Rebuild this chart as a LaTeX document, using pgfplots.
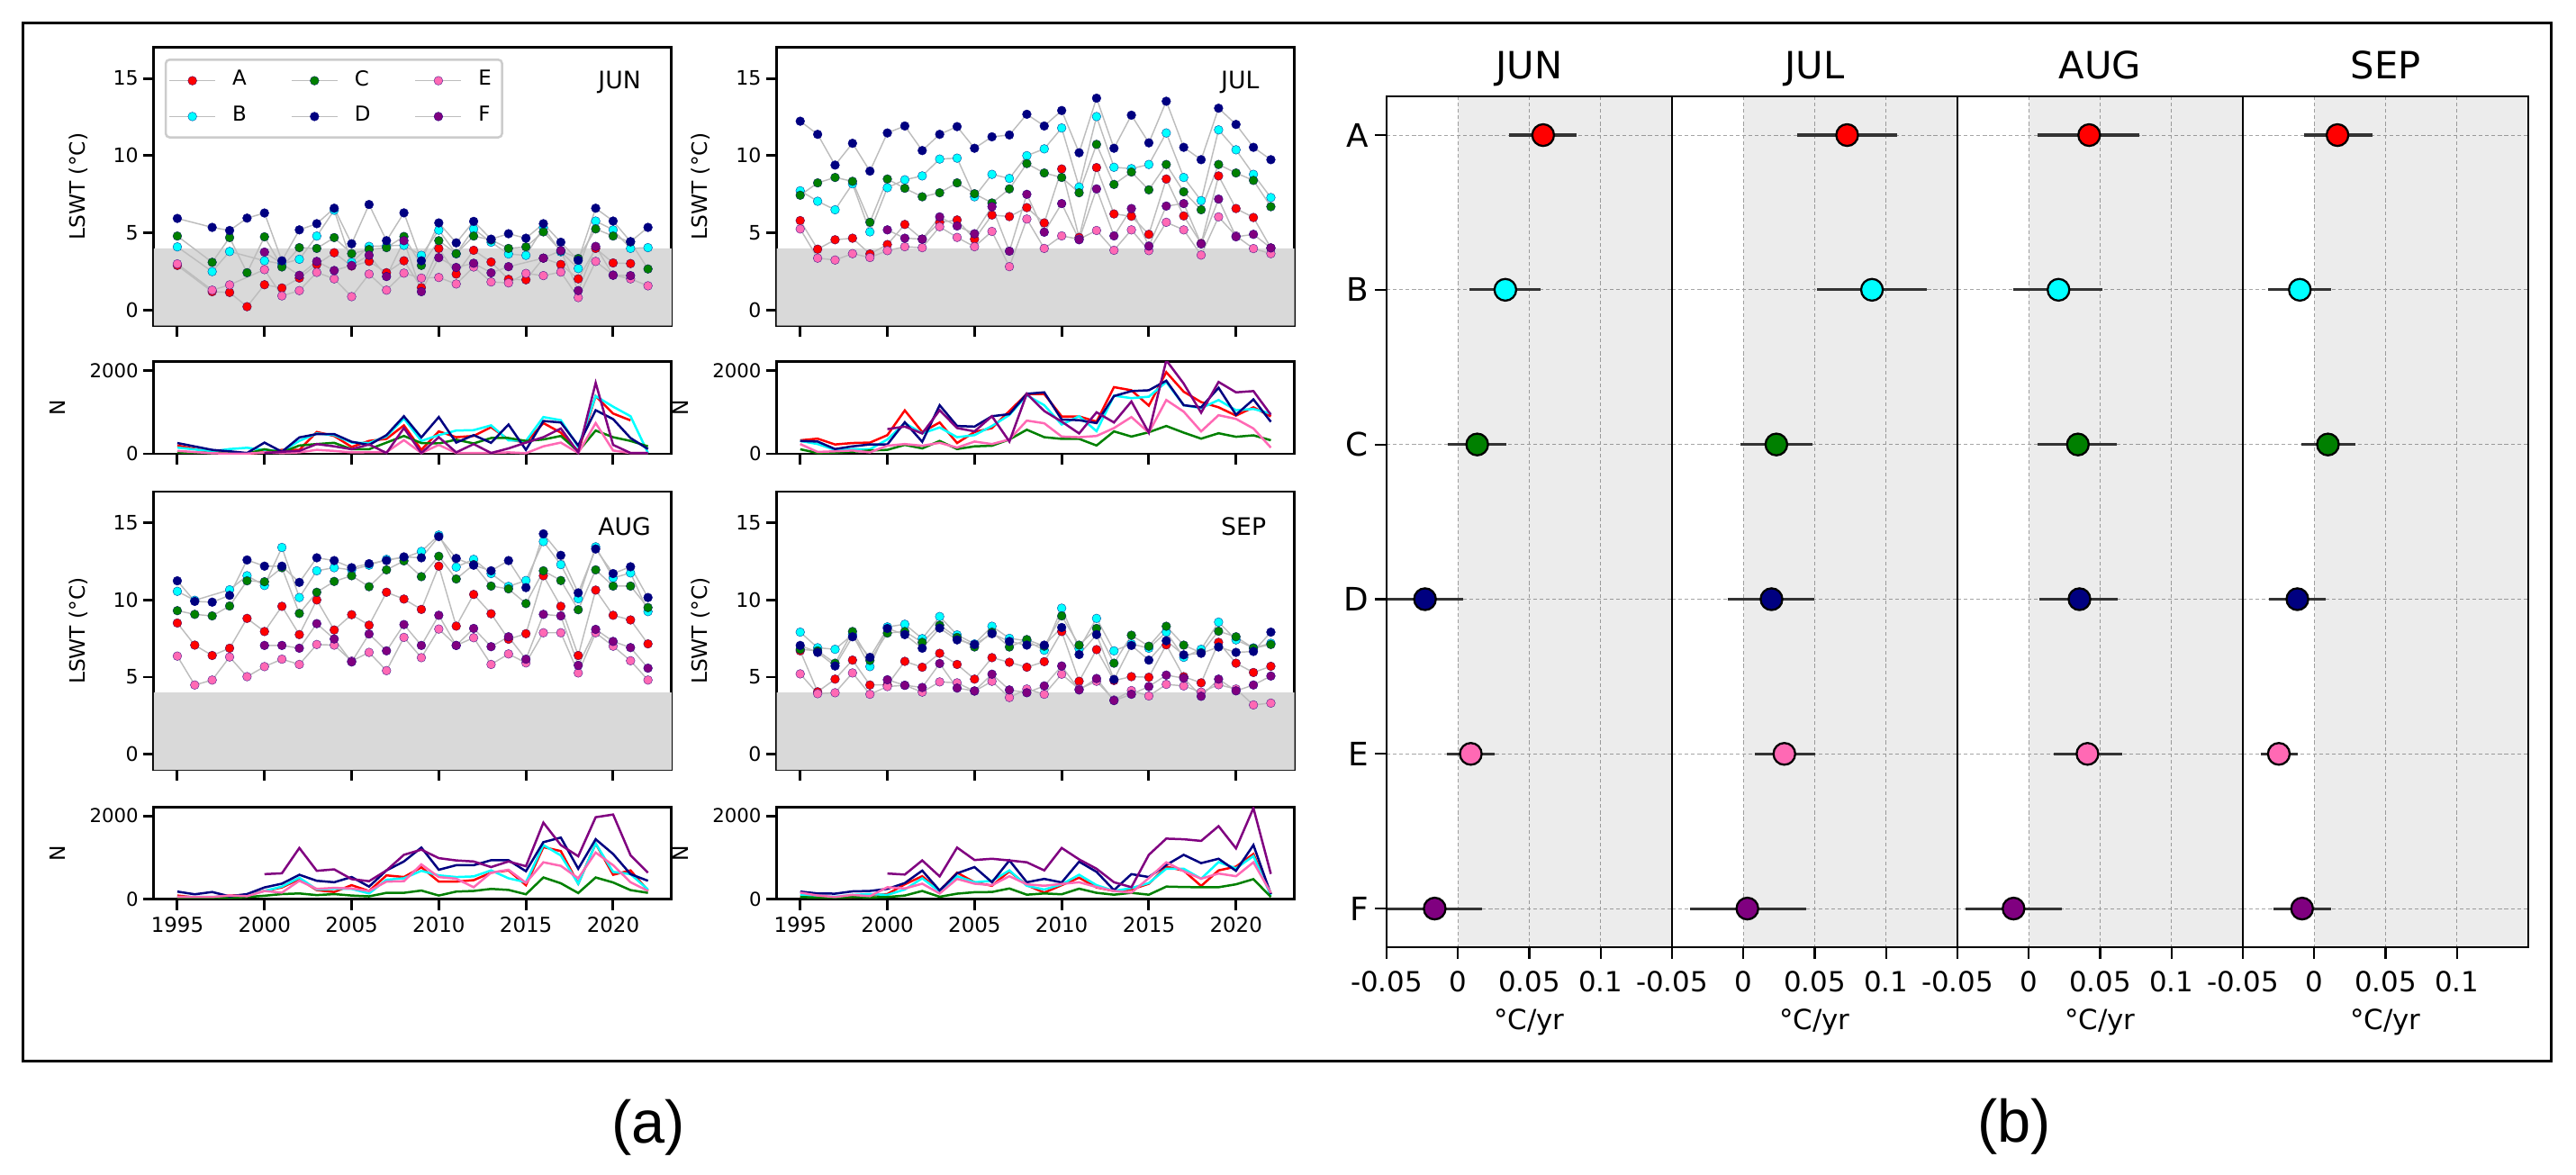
\documentclass[border=0pt]{standalone}
\usepackage{fontspec}
\usepackage{pgfplots}
\usepackage{pgfplotstable}
\pgfplotsset{compat=1.18}
\setmainfont{DejaVu Sans}
\newfontfamily\arialf{Liberation Sans}

% reference pixels to pt
\def\px#1{#1*0.24pt}
\def\py#1{312.96pt-#1*0.24pt}
\newcommand{\fs}[1]{\fontsize{#1}{#1}\selectfont}

\definecolor{cA}{HTML}{FF0000}
\definecolor{cB}{HTML}{00FFFF}
\definecolor{cC}{HTML}{008000}
\definecolor{cD}{HTML}{000080}
\definecolor{cE}{HTML}{FF69B4}
\definecolor{cF}{HTML}{800080}
\definecolor{linegray}{HTML}{BDBDBD}
\definecolor{spanA}{HTML}{D9D9D9}

% LSWT per month
\pgfplotstableread{
year A B C D E F
1995 2.9 4.1 4.8 5.94 3.0 nan
1997 1.2 2.5 3.1 5.36 1.3 nan
1998 1.15 3.8 4.7 5.16 1.64 nan
1999 .23 nan 2.43 5.96 nan nan
2000 1.65 3.2 4.75 6.29 2.63 3.76
2001 1.44 3.0 2.8 3.2 .93 nan
2002 2.08 3.3 4.05 5.2 1.27 2.26
2003 2.96 4.8 4.0 5.6 2.45 3.16
2004 3.72 6.47 4.7 6.6 2.03 2.57
2005 2.86 3.1 3.66 4.3 .88 2.9
2006 3.16 4.13 3.93 6.84 2.34 3.56
2007 2.43 4.17 4.05 4.5 1.3 2.18
2008 3.2 4.2 4.77 6.3 2.4 4.5
2009 1.46 3.55 2.9 3.2 2.08 1.2
2010 4.0 5.18 4.5 5.65 2.12 3.4
2011 2.34 3.65 3.66 4.36 1.7 2.77
2012 3.88 5.26 4.8 5.75 2.8 3.04
2013 3.12 4.4 4.55 4.6 1.83 2.42
2014 2.0 3.64 4.0 4.95 1.77 2.82
2015 1.97 3.55 4.1 4.66 2.38 nan
2016 3.37 5.36 5.07 5.6 2.24 3.37
2017 2.96 3.78 3.84 4.4 2.47 3.86
2018 2.03 2.7 3.35 3.23 .82 1.27
2019 4.0 5.77 5.26 6.6 3.16 4.13
2020 3.06 5.2 4.8 5.77 2.28 2.26
2021 3.02 4.0 4.42 4.44 2.03 2.24
2022 nan 4.05 2.67 5.36 1.58 nan
}\junT
\pgfplotstableread{
year A B C D E F
1995 5.8 7.73 7.44 12.23 5.26 nan
1996 3.95 7.05 8.24 11.38 3.37 nan
1997 4.56 6.5 8.59 9.39 3.25 nan
1998 4.66 8.18 8.34 10.8 3.66 nan
1999 3.64 5.07 5.69 9.0 3.41 nan
2000 4.25 7.93 8.49 11.47 3.86 5.2
2001 5.55 8.44 7.89 11.92 4.11 4.66
2002 4.6 8.69 7.34 10.33 4.05 4.6
2003 5.69 9.78 7.6 11.38 5.4 6.04
2004 5.84 9.84 8.24 11.88 4.71 5.45
2005 4.6 7.34 7.54 10.48 4.11 4.95
2006 6.16 8.79 6.94 11.22 5.1 6.7
2007 6.06 8.53 7.85 11.34 2.82 3.82
2008 6.64 10.0 9.49 12.68 5.9 7.5
2009 5.65 10.44 8.88 11.92 4.0 5.05
2010 9.14 11.79 8.59 12.92 4.81 6.9
2011 4.71 7.97 7.6 10.19 4.6 4.56
2012 9.23 12.53 10.73 13.72 5.16 7.85
2013 6.23 9.25 8.14 10.48 3.88 4.81
2014 6.08 9.16 8.94 12.62 5.2 6.58
2015 4.91 9.43 7.79 10.83 3.86 4.15
2016 8.49 11.47 9.43 13.52 5.69 6.74
2017 6.1 8.59 7.66 10.54 5.2 6.9
2018 4.32 7.09 6.5 9.74 3.57 4.29
2019 8.69 11.67 9.43 13.07 6.04 7.19
2020 6.58 10.38 8.88 12.02 4.81 4.75
2021 6.0 8.79 8.4 10.54 3.99 4.91
2022 4.03 7.29 6.7 9.74 3.66 4.03
}\julT
\pgfplotstableread{
year A B C D E F
1995 8.5 10.55 9.3 11.23 6.36 nan
1996 7.07 9.97 9.06 9.9 4.49 nan
1997 6.4 nan 8.96 9.85 4.81 nan
1998 6.87 10.65 9.6 10.29 6.3 nan
1999 8.8 11.56 11.23 12.58 5.03 nan
2000 7.95 10.93 11.17 12.18 5.68 7.05
2001 9.58 13.39 12.08 12.18 6.16 7.05
2002 7.75 10.15 9.12 11.13 5.82 6.87
2003 9.99 11.88 10.49 12.72 7.11 8.46
2004 8.05 12.08 11.19 12.54 7.07 7.47
2005 9.04 11.94 11.56 12.08 6.04 5.98
2006 8.36 12.24 10.85 12.34 6.6 7.79
2007 10.49 12.62 11.94 12.54 5.42 6.7
2008 10.05 12.72 12.52 12.78 7.57 8.4
2009 9.38 13.13 11.5 12.72 6.26 7.05
2010 12.18 14.19 12.82 14.09 8.11 9.0
2011 8.3 12.12 11.35 12.68 7.05 7.05
2012 10.35 12.62 12.28 12.24 7.55 8.15
2013 9.1 11.7 10.89 11.88 5.82 6.97
2014 7.45 10.87 10.71 12.54 6.5 7.61
2015 7.81 11.25 9.76 10.79 5.92 6.16
2016 11.56 13.77 11.88 14.27 7.87 9.06
2017 9.58 12.28 11.25 12.88 7.87 8.96
2018 6.4 10.07 9.36 10.45 5.27 5.76
2019 10.63 13.43 11.94 13.29 7.87 8.09
2020 9.0 11.42 10.89 11.7 7.0 7.31
2021 8.7 11.74 10.89 12.14 6.06 6.91
2022 7.15 9.24 9.5 10.15 4.81 5.58
}\augT
\pgfplotstableread{
year A B C D E F
1995 6.7 7.91 6.8 7.05 5.21 nan
1996 4.05 6.9 6.7 6.6 3.93 nan
1997 4.87 6.8 5.9 5.72 3.99 nan
1998 6.1 7.75 7.95 7.61 5.27 nan
1999 4.49 5.68 6.08 6.28 3.89 nan
2000 4.5 8.25 7.85 8.15 4.39 4.83
2001 6.02 8.42 7.95 7.75 4.47 4.47
2002 5.64 7.49 7.25 6.87 4.03 4.33
2003 6.54 8.92 8.36 8.17 4.69 5.88
2004 5.82 7.73 7.57 7.41 4.63 4.29
2005 4.87 7.15 6.95 7.11 4.09 4.11
2006 6.26 8.29 7.91 7.81 4.73 5.19
2007 5.96 7.51 6.95 7.31 3.68 4.17
2008 5.64 7.35 7.43 7.07 4.23 3.99
2009 6.0 6.74 7.0 7.07 3.89 4.43
2010 7.95 9.46 8.96 8.21 5.19 5.72
2011 4.73 6.84 7.07 6.46 4.23 4.17
2012 6.78 8.8 8.15 7.75 4.73 4.91
2013 4.78 6.7 5.9 4.85 3.52 3.48
2014 5.03 7.15 7.71 7.05 4.13 3.89
2015 4.99 6.87 7.0 6.1 3.78 4.39
2016 7.09 7.91 8.29 7.35 4.53 5.13
2017 5.03 6.28 7.07 6.44 4.43 4.93
2018 4.63 6.8 6.58 6.54 4.03 3.76
2019 7.25 8.56 7.97 6.95 4.51 4.87
2020 5.9 7.41 7.61 6.6 4.23 4.11
2021 5.3 6.89 6.87 6.66 3.2 4.49
2022 5.7 7.19 7.11 7.91 3.32 5.07
}\sepT

% N per month
\pgfplotstableread{
year A B C D E F
1995 200 150 35 260 70 nan
1997 35 60 20 95 15 nan
1998 20 115 35 60 5 nan
1999 5 145 5 20 5 nan
2000 35 95 110 270 35 20
2001 95 60 35 50 20 50
2002 95 310 200 395 35 70
2003 525 490 235 475 95 235
2004 430 450 265 475 70 180
2005 165 270 110 290 35 110
2006 310 260 110 215 40 225
2007 360 420 270 450 40 20
2008 685 850 430 905 330 620
2009 95 310 260 395 20 20
2010 540 450 250 885 215 400
2011 400 560 340 270 20 35
2012 430 570 250 450 20 235
2013 640 685 380 265 20 20
2014 345 325 380 705 35 130
2015 270 310 310 95 15 270
2016 740 885 345 790 180 400
2017 510 810 430 755 270 610
2018 60 165 60 200 20 35
2019 1390 1390 560 1050 740 1710
2020 970 1135 400 835 80 215
2021 805 905 310 380 20 20
2022 nan 20 180 115 20 20
}\junN
\pgfplotstableread{
year A B C D E F
1995 325 310 110 310 235 nan
1996 365 235 20 295 45 nan
1997 225 95 30 115 60 nan
1998 260 110 50 180 80 nan
1999 270 110 80 225 35 nan
2000 450 345 95 225 195 595
2001 1045 740 215 760 235 655
2002 525 490 130 290 195 490
2003 755 635 310 1170 265 1050
2004 260 400 115 670 150 620
2005 525 450 180 655 295 540
2006 620 670 195 905 235 905
2007 1030 935 345 955 345 295
2008 1440 1410 580 1445 800 1445
2009 1440 1170 400 1480 735 1030
2010 900 705 360 825 415 775
2011 900 905 360 810 400 490
2012 775 545 200 740 430 1000
2013 1605 1400 540 1390 620 755
2014 1530 1340 415 1510 885 1260
2015 1160 1375 520 1530 510 510
2016 1965 1730 670 1760 1295 2250
2017 1495 1170 510 1170 1015 1690
2018 1245 1100 365 1120 540 990
2019 1120 1295 495 1590 930 1730
2020 920 1050 410 940 840 1480
2021 1120 1080 445 1310 610 1510
2022 900 970 325 770 150 940
}\julN
\pgfplotstableread{
year A B C D E F
1995 85 50 35 180 50 nan
1996 40 50 35 115 50 nan
1997 40 50 35 170 50 nan
1998 85 70 30 65 85 nan
1999 100 85 50 120 70 nan
2000 195 195 80 280 195 600
2001 280 300 120 370 155 620
2002 480 515 135 585 440 1230
2003 215 230 95 440 245 680
2004 170 245 120 405 270 715
2005 335 245 85 530 255 480
2006 195 135 65 300 195 430
2007 570 465 150 690 420 690
2008 530 500 150 905 430 1065
2009 765 680 205 1240 835 1190
2010 420 570 85 705 530 985
2011 420 530 180 815 490 930
2012 455 545 195 815 285 905
2013 635 690 245 935 635 770
2014 690 500 220 935 705 905
2015 335 405 115 670 390 790
2016 1250 1300 520 1370 885 1840
2017 1155 1050 380 1480 800 1300
2018 370 370 145 730 500 1030
2019 1335 1335 520 1440 1120 1970
2020 585 655 400 1085 815 2035
2021 690 600 215 600 405 1055
2022 205 230 150 440 195 635
}\augN
\pgfplotstableread{
year A B C D E F
1995 70 105 50 180 155 nan
1996 55 70 35 135 85 nan
1997 40 55 35 130 50 nan
1998 50 100 50 185 100 nan
1999 85 120 40 195 70 nan
2000 120 100 50 245 285 615
2001 355 230 85 385 255 590
2002 550 500 195 685 370 930
2003 195 180 55 205 135 545
2004 635 550 130 620 485 1240
2005 405 405 165 770 370 940
2006 320 440 170 405 335 970
2007 670 690 255 930 550 930
2008 335 320 105 405 355 885
2009 155 230 135 485 320 690
2010 335 355 115 400 365 1230
2011 515 585 250 900 405 955
2012 280 335 150 655 290 730
2013 195 195 105 215 195 405
2014 230 265 150 600 155 285
2015 370 385 105 530 505 1065
2016 780 730 300 820 885 1455
2017 685 730 290 1065 670 1440
2018 315 490 285 865 490 1400
2019 690 890 285 970 615 1755
2020 780 740 355 680 550 1220
2021 1085 1035 480 1300 885 2190
2022 120 85 50 120 150 605
}\sepN

\pgfplotsset{
  base/.style={
    scale only axis,
    anchor=south west,
    axis line style={line width=.7pt},
    tick style={line width=.7pt,black},
    tick align=outside,
    tick pos=left,
    major tick length=2.9pt,
    /pgf/number format/assume math mode=true,
    /pgf/number format/1000 sep={},
  },
  lswt/.style={
    base,
    width=138pt,height=74.16pt,
    xmin=1993.65,xmax=2023.35,ymin=-1,ymax=17,
    xtick={1995,2000,2005,2010,2015,2020},xticklabels={},
    ytick={0,5,10,15},
    yticklabel style={font=\fs{5.3},inner sep=1pt},
    ylabel={LSWT (°C)},
    every axis y label/.style={at={(rel axis cs:-0.146,0.5)},anchor=center,rotate=90,font=\fs{5.6}},
  },
  count/.style={
    base,
    width=138pt,height=24.55pt,
    xmin=1993.65,xmax=2023.35,ymin=0,ymax=2217,
    xtick={1995,2000,2005,2010,2015,2020},
    ytick={0,2000},
    yticklabel style={font=\fs{5.1},inner sep=1pt},
    xticklabel style={font=\fs{5.5},inner sep=1pt,yshift=-.8pt},
    ylabel={N},
    every axis y label/.style={at={(rel axis cs:-0.185,0.5)},anchor=center,rotate=90,font=\fs{5.6}},
  },
  junlegend/.style={
    legend columns=3,
    legend cell align=left,
    legend image code/.code={\draw[mark repeat=2,mark phase=2,##1] plot coordinates {(0cm,0cm)(0.215cm,0cm)(0.43cm,0cm)};},
    legend style={at={(rel axis cs:.021,.96)},anchor=north west,draw=black!20,line width=.6pt,rounded corners=1pt,
      font=\fs{5.5},inner sep=.8pt,row sep=0pt,
      /tikz/every odd column/.append style={column sep=2.4pt},
      /tikz/every even column/.append style={column sep=9.8pt}},
  },
  trend/.style={
    base,
    width=76.08pt,height=226.8pt,
    xmin=-0.05,xmax=0.15,ymin=-0.25,ymax=5.25,y dir=reverse,
    xtick={-0.05,0,0.05,0.1},xticklabels={-0.05,0,0.05,0.1},
    ytick={0,1,2,3,4,5},
    grid=major,
    grid style={dash pattern=on 1pt off .7pt,line width=.2pt,color=black!35},
    axis line style={line width=.6pt},
    xticklabel style={font=\fs{7.4},inner sep=1pt,yshift=-2pt},
    major tick length=3.1pt,
    tick style={line width=.5pt,black},
    every axis title/.style={at={(0.5,1)},anchor=base,yshift=4.8pt,font=\fs{10}},
    xlabel={°C/yr},
    every axis x label/.style={at={(axis description cs:0.5,0)},anchor=center,yshift=-20pt,font=\fs{7.4}},
  },
}

% marks with a thin edge
\newcommand{\lswtline}[2]{\addplot[color=linegray,line width=.35pt,mark=*,mark size=1.17pt,
  mark options={solid,fill=c#2,draw=cD!70!c#2,line width=.1pt},forget plot] table[x=year,y=#2]{#1};}
\newcommand{\nline}[2]{\addplot[color=c#2,line width=.6pt,forget plot] table[x=year,y=#2]{#1};}

\newcommand{\legimg}[1]{\addlegendimage{color=linegray,line width=.35pt,mark=*,mark size=1.17pt,
  mark options={solid,fill=c#1,draw=cD!70!c#1,line width=.1pt}}\addlegendentry{#1}}
% legend entries run row by row: A C E / B D F
\newcommand{\legendimages}{\legimg{A}\legimg{C}\legimg{E}\legimg{B}\legimg{D}\legimg{F}}

% one panel of (a): left, bottom, table, label, extra axis options
\newcommand{\panelA}[5]{%
  \begin{axis}[lswt,at={(\px{#1},\py{#2})},#5]
    \addplot[fill=spanA,draw=none,forget plot] coordinates {(1990,-1)(2030,-1)(2030,4)(1990,4)} \closedcycle;
    \lswtline{#3}{A}\lswtline{#3}{B}\lswtline{#3}{C}\lswtline{#3}{D}\lswtline{#3}{E}\lswtline{#3}{F}
    \node[anchor=west,font=\fs{6.4},inner sep=0pt] at (rel axis cs:.857,.875) {#4};
    \legendimages
  \end{axis}%
  \global\let\legendimages\relax
}
\newcommand{\panelN}[4]{%
  \begin{axis}[count,at={(\px{#1},\py{#2})},#4]
    \nline{#3}{A}\nline{#3}{B}\nline{#3}{C}\nline{#3}{D}\nline{#3}{E}\nline{#3}{F}
  \end{axis}%
}

% y, low, high, slope, colour
\newcommand{\est}[5]{%
  \addplot[color=black!80,line width=.75pt,forget plot] coordinates {(#2,#1)(#3,#1)};
  \addplot[only marks,mark=*,mark size=2.9pt,mark options={fill=c#5,draw=black,line width=.55pt},forget plot] coordinates {(#4,#1)};
}
\newcommand{\spanB}{\addplot[fill=black,fill opacity=.075,draw=none,forget plot] coordinates {(0,-0.25)(0.15,-0.25)(0.15,5.25)(0,5.25)} \closedcycle;}

\begin{document}
\begin{tikzpicture}
  \path[use as bounding box] (0,0) rectangle (\px{2861},\px{1304});
  \draw[line width=.7pt] (\px{25.5},\py{25.5}) rectangle (\px{2833.5},\py{1178.5});

  % (a)
  \panelA{170.8}{361.7}{\junT}{JUN}{junlegend}
  \panelN{170.8}{504}{\junN}{xticklabels={}}
  \panelA{862.6}{361.7}{\julT}{JUL}{}
  \panelN{862.6}{504}{\julN}{xticklabels={}}
  \panelA{170.8}{855}{\augT}{AUG}{}
  \panelN{170.8}{998.5}{\augN}{}
  \panelA{862.6}{855}{\sepT}{SEP}{}
  \panelN{862.6}{998.5}{\sepN}{}

  % (b)
  \begin{axis}[trend,at={(\px{1540},\py{1052})},title={JUN},
      yticklabels={A,B,C,D,E,F},yticklabel style={font=\fs{8.6},inner sep=1.5pt}]
    \spanB
    \est{0}{.0355}{.0834}{.0597}{A}
    \est{1}{.0079}{.058}{.0332}{B}
    \est{2}{-.0073}{.0338}{.0135}{C}
    \est{3}{-.0496}{.0034}{-.0231}{D}
    \est{4}{-.0079}{.0259}{.009}{E}
    \est{5}{-.0495}{.0169}{-.0163}{F}
  \end{axis}
  \begin{axis}[trend,at={(\px{1857},\py{1052})},title={JUL},yticklabels={},ytick style={draw=none}]
    \spanB
    \est{0}{.0377}{.1076}{.0727}{A}
    \est{1}{.0518}{.1285}{.0901}{B}
    \est{2}{-.0023}{.0485}{.0231}{C}
    \est{3}{-.0107}{.0496}{.0197}{D}
    \est{4}{.0079}{.0501}{.0287}{E}
    \est{5}{-.0377}{.0439}{.0028}{F}
  \end{axis}
  \begin{axis}[trend,at={(\px{2174},\py{1052})},title={AUG},yticklabels={},ytick style={draw=none}]
    \spanB
    \est{0}{.0062}{.0772}{.0423}{A}
    \est{1}{-.0107}{.0518}{.0208}{B}
    \est{2}{.0062}{.0614}{.0344}{C}
    \est{3}{.0073}{.062}{.0355}{D}
    \est{4}{.0175}{.0654}{.0411}{E}
    \est{5}{-.0445}{.0231}{-.0107}{F}
  \end{axis}
  \begin{axis}[trend,at={(\px{2491},\py{1052})},title={SEP},yticklabels={},ytick style={draw=none}]
    \spanB
    \est{0}{-.0073}{.0406}{.0163}{A}
    \est{1}{-.0321}{.0118}{-.0101}{B}
    \est{2}{-.009}{.0287}{.0096}{C}
    \est{3}{-.0315}{.0079}{-.0118}{D}
    \est{4}{-.0377}{-.0118}{-.0248}{E}
    \est{5}{-.0287}{.0118}{-.0085}{F}
  \end{axis}

  \node[font=\arialf\fs{16}] at (\px{720},\py{1252}) {(a)};
  \node[font=\arialf\fs{16}] at (\px{2237},\py{1251}) {(b)};
\end{tikzpicture}
\end{document}
